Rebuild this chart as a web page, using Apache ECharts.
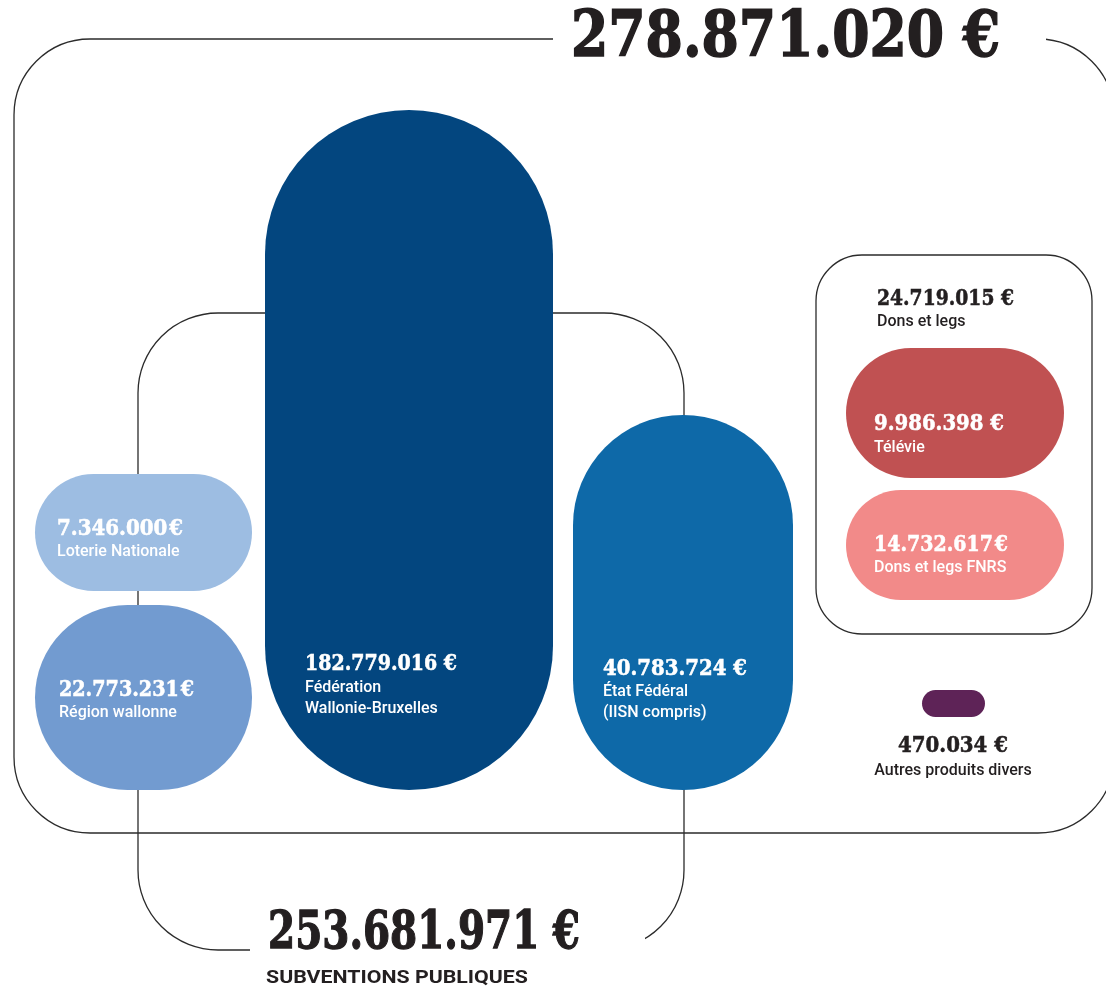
<!DOCTYPE html>
<html>
<head>
<meta charset="utf-8">
<script src="https://cdn.jsdelivr.net/npm/echarts@6/dist/echarts.min.js"></script>
<style>
html,body{margin:0;padding:0;background:#fff;}
#chart{width:1106px;height:990px;}
</style>
</head>
<body>
<div id="chart"></div>
<script>
// ---------- DATA ----------
const categories = ['Fédération\nWallonie-Bruxelles', 'État Fédéral\n(IISN compris)', 'Région wallonne', 'Loterie Nationale', 'Télévie', 'Dons et legs FNRS', 'Autres produits divers'];
const amounts = [182779016, 40783724, 22773231, 7346000, 9986398, 14732617, 470034];
const groupOf = ['public', 'public', 'public', 'public', 'dons', 'dons', 'autres'];
const groupTitles = ['', 'SUBVENTIONS PUBLIQUES', 'Dons et legs'];
const groupKeys = ['all', 'public', 'dons'];

// ---------- LAYOUT (axis units = px of a 1106x990 canvas) ----------
const pillBox = [[265,110,553,790],[573,415,793,790],[35,605,252,790],[35,474,252,591],[846,348,1064,478],[846,490,1064,600],[922,690,985,717]];
const pillColor = ['#03467f','#0e69a8','#729bd0','#9dbde2','#c05152','#f28a89','#5e2357'];
const numPos = [[305,664.5],[603,669.5],[59,690.5],[57,529.5],[874,424.5],[874,545.5],[953,746.5]];
const numWidth = [152,144,135,126,130,134,110];
const euroTight = [false,false,true,true,false,true,false];
const labelPos = [[305,688],[603,692],[59,713],[57,552],[874,448],[874,568],[953,771]];
const insideLabel = [true,true,true,true,true,true,false];
const frameBox = [[14,39,1114,833,76],[138,313,684,950,80],[816,255,1092,634,46]];
const maskBox = [[553,26,1046,54],[250,930,645,966]];
const totalPos = [[571,39],[268,934.5],[877,299.5]];
const totalWidth = [429,312,137];
const totalSize = [64,52,23];
const totalStroke = [1.6,1.3,0.6];
const groupTitlePos = [null,[266,978],[877,322]];

// ---------- HELPERS ----------
function fmt(v, tight){
  return String(v).replace(/\B(?=(\d{3})+(?!\d))/g, '.') + (tight ? '\u200a€' : ' €');
}
const mctx = document.createElement('canvas').getContext('2d');
function fitScale(text, font, target){
  mctx.font = font;
  const w = mctx.measureText(text).width;
  return w > 0 ? target / w : 1;
}
const SLAB = '"DejaVu Serif", "Liberation Serif", serif';
const SANS = 'Roboto, "Noto Sans", sans-serif';
const DARK = '#231f20';
function box(api, b){
  const p0 = api.coord([b[0], b[1]]);
  const p1 = api.coord([b[2], b[3]]);
  return {x: Math.min(p0[0],p1[0]), y: Math.min(p0[1],p1[1]), w: Math.abs(p1[0]-p0[0]), h: Math.abs(p1[1]-p0[1])};
}
function textEl(api, pos, text, font, fill, align, scaleX, strokeW){
  const p = api.coord(pos);
  const style = {text: text, font: font, fill: fill, align: align, textAlign: align,
    verticalAlign: 'middle', textVerticalAlign: 'middle'};
  if (strokeW) { style.stroke = fill; style.lineWidth = strokeW; }
  return {type: 'text', x: p[0], y: p[1], scaleX: scaleX || 1, scaleY: 1, style: style};
}

const groupTotals = groupKeys.map(k => amounts.reduce((s, v, i) => s + ((k === 'all' || groupOf[i] === k) ? v : 0), 0));

const chart = echarts.init(document.getElementById('chart'), null, {renderer: 'canvas'});
chart.setOption({
  animation: false,
  backgroundColor: '#ffffff',
  grid: {left: 0, right: 0, top: 0, bottom: 0},
  xAxis: {type: 'value', min: 0, max: 1106, show: false},
  yAxis: {type: 'value', min: 0, max: 990, inverse: true, show: false},
  series: [
    {
      type: 'custom', name: 'frames', z: 1, clip: false, silent: true,
      data: frameBox.map((b, i) => [i]),
      encode: {x: 0, y: 0},
      renderItem: function(params, api){
        const b = frameBox[params.dataIndex];
        const r = box(api, b);
        return {type: 'rect', shape: {x: r.x, y: r.y, width: r.w, height: r.h, r: b[4]},
          style: {fill: 'none', stroke: '#2b2b2b', lineWidth: 1.3}};
      }
    },
    {
      type: 'custom', name: 'masks', z: 2, clip: false, silent: true,
      data: maskBox.map((b, i) => [i]),
      encode: {x: 0, y: 0},
      renderItem: function(params, api){
        const r = box(api, maskBox[params.dataIndex]);
        return {type: 'rect', shape: {x: r.x, y: r.y, width: r.w, height: r.h},
          style: {fill: '#ffffff'}};
      }
    },
    {
      type: 'custom', name: 'sources', z: 3, clip: false,
      data: amounts.map((v, i) => [i, v]),
      encode: {x: 0, y: 0},
      renderItem: function(params, api){
        const i = params.dataIndex;
        const b = pillBox[i];
        const r = box(api, b);
        const inside = insideLabel[i];
        const fill = inside ? '#ffffff' : DARK;
        const align = inside ? 'left' : 'center';
        const numText = fmt(amounts[i], euroTight[i]);
        const numFont = 'bold 23px ' + SLAB;
        const sx = fitScale(numText, numFont, numWidth[i]);
        const lines = categories[i].split('\n');
        const children = [
          {type: 'rect', shape: {x: r.x, y: r.y, width: r.w, height: r.h, r: Math.min(r.w, r.h) / 2},
            style: {fill: pillColor[i]}},
          textEl(api, numPos[i], numText, numFont, fill, align, sx, 0.6)
        ];
        lines.forEach((ln, k) => {
          children.push(textEl(api, [labelPos[i][0], labelPos[i][1] + k * 20.5], ln, '500 16px ' + SANS, fill, align, 1));
        });
        return {type: 'group', children: children};
      }
    },
    {
      type: 'custom', name: 'totals', z: 4, clip: false, silent: true,
      data: groupTotals.map((v, i) => [i, v]),
      encode: {x: 0, y: 0},
      renderItem: function(params, api){
        const i = params.dataIndex;
        const t = fmt(groupTotals[i], false);
        const font = 'bold ' + totalSize[i] + 'px ' + SLAB;
        const children = [textEl(api, totalPos[i], t, font, DARK, 'left', fitScale(t, font, totalWidth[i]), totalStroke[i])];
        if (groupTitles[i]) {
          if (i === 1) {
            const f2 = 'bold 19px ' + SANS;
            children.push(textEl(api, groupTitlePos[i], groupTitles[i], f2, DARK, 'left', fitScale(groupTitles[i], f2, 262)));
          } else {
            children.push(textEl(api, groupTitlePos[i], groupTitles[i], '500 16px ' + SANS, DARK, 'left', 1));
          }
        }
        return {type: 'group', children: children};
      }
    }
  ]
});
</script>
</body>
</html>
